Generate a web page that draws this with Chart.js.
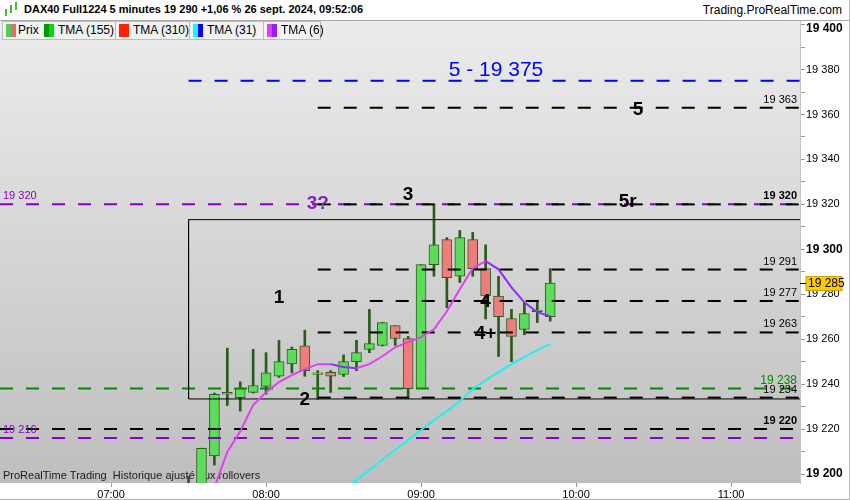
<!DOCTYPE html>
<html>
<head>
<meta charset="utf-8">
<script src="https://cdn.jsdelivr.net/npm/chart.js@4.4.1/dist/chart.umd.min.js"></script>
<style>
  body { margin: 0; background: #fff; font-family: "Liberation Sans", Arial, sans-serif; }
  #wrap { position: relative; width: 850px; height: 500px; overflow: hidden; }
  #chart { position: absolute; left: 0; top: 0; }
  #head { position: absolute; left: 0; top: 0; width: 850px; height: 20px; background: #fff; border-bottom: 1px solid #a9a9a9; }
  #title { position: absolute; left: 24px; top: 3px; font-size: 11px; font-weight: bold; color: #000; white-space: nowrap; }
  #site { position: absolute; right: 8px; top: 3px; font-size: 12px; color: #000; }
  .ico { position: absolute; background: #44bb33; width: 2px; }
  .leg { position: absolute; top: 21px; height: 17px; background: #f2f2f2; border: 1px solid #bdbdbd; border-left: none; font-size: 12px; line-height: 17px; color: #000; white-space: nowrap; }
  .sw { position: absolute; top: 2px; width: 5px; height: 13px; }
  #frame { position: absolute; left: 0; top: 0; width: 849px; height: 499px; border-right: 1px solid #b5b5b5; border-bottom: 1px solid #b5b5b5; pointer-events: none; }
</style>
</head>
<body>
<div id="wrap">
  <canvas id="chart" width="850" height="500"></canvas>
  <div id="head">
    <div class="ico" style="left:5px;top:9px;height:7px"></div>
    <div class="ico" style="left:10px;top:5px;height:8px"></div>
    <div class="ico" style="left:15px;top:2px;height:8px"></div>
    <div id="title">DAX40 Full1224 5 minutes 19 290 +1,06 % 26 sept. 2024, 09:52:06</div>
    <div id="site">Trading.ProRealTime.com</div>
  </div>
  <div class="leg" style="left:2px;width:37px;border-left:1px solid #bdbdbd">
    <span class="sw" style="left:3px;background:#55cc55"></span><span class="sw" style="left:8px;background:#e36b6b"></span>
    <span style="position:absolute;left:15px">Prix</span>
  </div>
  <div class="leg" style="left:40px;width:75px">
    <span class="sw" style="left:4px;background:#009900"></span><span class="sw" style="left:9px;background:#00dd00"></span>
    <span style="position:absolute;left:18px">TMA (155)</span>
  </div>
  <div class="leg" style="left:116px;width:73px">
    <span class="sw" style="left:3px;background:#ff2200"></span><span class="sw" style="left:8px;background:#ff2200"></span>
    <span style="position:absolute;left:17px">TMA (310)</span>
  </div>
  <div class="leg" style="left:190px;width:73px">
    <span class="sw" style="left:3px;background:#00ffff"></span><span class="sw" style="left:8px;background:#0000ff"></span>
    <span style="position:absolute;left:17px">TMA (31)</span>
  </div>
  <div class="leg" style="left:264px;width:56px">
    <span class="sw" style="left:3px;background:#e040f0"></span><span class="sw" style="left:8px;background:#8f1fff"></span>
    <span style="position:absolute;left:17px">TMA (6)</span>
  </div>
  <div id="frame"></div>
</div>
<script>
// candles, 5 minutes
var times  = ['07:30','07:35','07:40','07:45','07:50','07:55','08:00','08:05','08:10','08:15','08:20','08:25','08:30','08:35','08:40',
              '08:45','08:50','08:55','09:00','09:05','09:10','09:15','09:20','09:25','09:30','09:35','09:40','09:45','09:50'];
var opens  = [19180,19188,19208,19235.5,19234,19236.3,19239,19243.5,19249,19257,19244.3,19245.3,19244.3,19250,19255.4,
              19257.2,19266,19260.3,19238,19293.2,19304.3,19288,19304.3,19291.4,19279.2,19269.2,19264.3,19272.3,19270];
var highs  = [19199,19211.5,19236,19256,19241,19255.5,19254,19259.5,19256.5,19264,19246,19246,19253,19259.5,19273.3,
              19267.5,19266,19261.2,19293.2,19320,19305.2,19308.4,19307.5,19302,19288,19273.3,19276.3,19277.2,19291.4];
var lows   = [19175,19185,19204,19230.5,19228,19236,19235.5,19243,19245,19243.5,19233.3,19236.3,19243.4,19246,19254,
              19257,19257.2,19233.6,19238,19288,19274,19285.2,19288,19269,19252.3,19250,19262,19267.4,19268];
var closes = [19194,19211.4,19235.5,19236.3,19238,19239.4,19245,19250,19255.5,19246,19245,19243.5,19250,19254,19258,
              19267.4,19260.3,19238,19293.2,19302,19287.4,19305.2,19291.4,19279.2,19270,19261.2,19271.4,19273,19285];

// moving averages
var tma6  = [null,null,19194,19209.8,19219,19230.7,19236.4,19240.9,19244,19246.7,19248.9,19248.9,19247.6,19247.1,19248.9,
             19252.4,19256.4,19258.7,19260.9,19264.4,19272.4,19282.2,19291.6,19294.7,19291.1,19283.1,19276.4,19272,19270.2];
var tma31 = [null,null,null,null,null,null,null,null,null,null,null,null,19193,19197.3,19201.8,
             19206.2,19210.7,19215.1,19219.6,19224,19228,19232.4,19237.8,19241.8,19245.3,19248.9,19252,19255.1,19257.8];

// drawn levels
var levelPrices = [19375, 19363, 19320, 19320, 19291, 19277, 19263, 19238, 19234, 19220, 19216];
var levelStarts = ['07:30','08:20', null, '08:20','08:20','08:20','08:20', null, '08:20', null, null];
var levelKinds  = ['blue','black','purple','black','black','black','black','green','black','black','purple'];

// box
var boxStart = '07:30';
var boxTop = 19313.2;
var boxBottom = 19233.4;

// wave labels
var waveText  = ['1', '2', '3', '3?', '4', '4+', '5', '5r'];
var waveTime  = ['08:05','08:15','08:55','08:20','09:25','09:25','10:24','10:20'];
var wavePrice = [19278.6, 19232.9, 19324.1, 19320.4, 19276.7, 19262.6, 19362, 19321.2];
var targetText = '5 - 19 375';
var targetTime = '09:29';
var targetPrice = 19379.8;

var xTicks = ['07:00','08:00','09:00','10:00','11:00'];
var yTicks = [19200,19210,19220,19230,19240,19250,19260,19270,19280,19290,19300,
              19310,19320,19330,19340,19350,19360,19370,19380,19390,19400];
var footText = 'ProRealTime Trading  Historique ajusté aux rollovers';

var X_MIN = 377, X_MAX = 686.7, Y_MIN = 19196, Y_MAX = 19401.6;
var FONT = '"Liberation Sans", Arial, sans-serif';

function toMin(t) { var p = t.split(':'); return (+p[0]) * 60 + (+p[1]); }
function fmt(v) { return String(Math.round(v)).replace(/\B(?=(\d{3})+(?!\d))/g, ' '); }

var colors = { black: '#000000', purple: '#8a00c8', green: '#008a00', blue: '#0000ff' };

var datasets = [];

// wicks and bodies
datasets.push({
  type: 'bar', order: 20, grouped: false,
  data: times.map(function (t, i) { return { x: toMin(t), y: [lows[i], highs[i]] }; }),
  backgroundColor: '#2b5a1a', borderWidth: 0, barThickness: 2
});
datasets.push({
  type: 'bar', order: 19, grouped: false,
  data: times.map(function (t, i) { return { x: toMin(t), y: [Math.min(opens[i], closes[i]), Math.max(opens[i], closes[i])] }; }),
  backgroundColor: times.map(function (t, i) { return closes[i] >= opens[i] ? '#5bdc5b' : '#f07c7c'; }),
  borderColor: '#2e5e1e', borderWidth: 1, borderSkipped: false, barThickness: 10
});

// levels
levelPrices.forEach(function (p, i) {
  var from = levelStarts[i] ? toMin(levelStarts[i]) : X_MIN;
  var k = levelKinds[i];
  datasets.push({
    type: 'line', order: (k == 'purple' || k == 'green') ? 6 : 5,
    data: [{ x: from, y: p }, { x: X_MAX, y: p }],
    borderColor: colors[k], borderWidth: 2, borderDash: [13, 13],
    pointRadius: 0, fill: false
  });
});

// box
datasets.push({
  type: 'line', order: 4,
  data: [{ x: X_MAX, y: boxTop }, { x: toMin(boxStart), y: boxTop }, { x: toMin(boxStart), y: boxBottom }, { x: X_MAX, y: boxBottom }],
  borderColor: '#000', borderWidth: 1, pointRadius: 0, fill: false
});

// averages
datasets.push({
  type: 'line', order: 2,
  data: times.map(function (t, i) { return { x: toMin(t), y: tma31[i] }; }),
  borderColor: '#22f0f0', borderWidth: 2, pointRadius: 0, fill: false, spanGaps: false
});
datasets.push({
  type: 'line', order: 1,
  data: times.map(function (t, i) { return { x: toMin(t), y: tma6[i] }; }),
  borderColor: '#e040f0', borderWidth: 2, pointRadius: 0, fill: false,
  segment: { borderColor: function (ctx) { return ctx.p1.parsed.y < ctx.p0.parsed.y ? '#8f2bff' : '#e040f0'; } }
});

var decor = {
  id: 'decor',
  beforeDraw: function (chart) {
    var a = chart.chartArea, c = chart.ctx;
    var g = c.createLinearGradient(0, a.top, 0, a.bottom);
    g.addColorStop(0, '#ececec');
    g.addColorStop(1, '#bebebe');
    c.save();
    c.fillStyle = g;
    c.fillRect(a.left, a.top, a.right - a.left, a.bottom - a.top);
    c.restore();
  },
  beforeDatasetsDraw: function (chart) {
    var a = chart.chartArea, c = chart.ctx;
    c.save();
    c.font = '11px ' + FONT;
    c.fillStyle = '#1a1a1a';
    c.textBaseline = 'middle';
    c.fillText(footText, a.left + 3, a.bottom - 7);
    c.restore();
  },
  afterDatasetsDraw: function (chart) {
    var a = chart.chartArea, c = chart.ctx;
    var xs = chart.scales.x, ys = chart.scales.y;
    c.save();
    c.textBaseline = 'middle';
    // small level labels
    levelPrices.forEach(function (p, i) {
      var k = levelKinds[i], y = ys.getPixelForValue(p);
      if (k == 'blue') return;
      if (k == 'purple') {
        c.font = '11px ' + FONT;
        c.fillStyle = colors.purple;
        c.textAlign = 'left';
        c.fillText(fmt(p), a.left + 3, y - 8);
      }
      if (k == 'black' || k == 'green') {
        c.font = (p == 19320 || p == 19220 ? 'bold ' : '') + (k == 'green' ? '12px ' : '11px ') + FONT;
        c.fillStyle = k == 'green' ? colors.green : '#000';
        c.textAlign = 'right';
        c.fillText(fmt(p), a.right - 3, y - 8);
      }
    });
    // waves
    c.textAlign = 'center';
    waveText.forEach(function (s, i) {
      c.font = 'bold 19px ' + FONT;
      c.fillStyle = s == '3?' ? '#8a1fc8' : '#000';
      c.fillText(s, xs.getPixelForValue(toMin(waveTime[i])), ys.getPixelForValue(wavePrice[i]));
    });
    c.font = '21px ' + FONT;
    c.fillStyle = '#0000ff';
    c.fillText(targetText, xs.getPixelForValue(toMin(targetTime)), ys.getPixelForValue(targetPrice));
    c.restore();
  },
  afterDraw: function (chart) {
    var a = chart.chartArea, c = chart.ctx, ys = chart.scales.y;
    c.save();
    // top axis label kept inside
    var yt = Math.max(ys.getPixelForValue(yTicks[yTicks.length - 1]), a.top + 8);
    c.font = 'bold 12px ' + FONT;
    c.fillStyle = '#000';
    c.textBaseline = 'middle';
    c.fillText(fmt(yTicks[yTicks.length - 1]), a.right + 6, yt);
    // last price
    var last = closes[closes.length - 1];
    var y = Math.round(ys.getPixelForValue(last)) + 0.5;
    c.fillStyle = '#ffcc00';
    c.fillRect(a.right + 6, y - 7, 36, 14);
    c.strokeStyle = '#c9a200';
    c.lineWidth = 1;
    c.strokeRect(a.right + 6, y - 7, 36, 14);
    c.beginPath();
    c.moveTo(a.right, y); c.lineTo(a.right + 6, y);
    c.strokeStyle = '#000';
    c.stroke();
    c.font = '12px ' + FONT;
    c.fillStyle = '#000';
    c.fillText(fmt(last), a.right + 8, y);
    c.restore();
  }
};

new Chart(document.getElementById('chart'), {
  type: 'bar',
  data: { datasets: datasets },
  plugins: [decor],
  options: {
    responsive: false,
    animation: false,
    events: [],
    layout: { padding: { top: 21, left: 0, right: 0, bottom: 0 } },
    plugins: { legend: { display: false }, tooltip: { enabled: false } },
    scales: {
      x: {
        type: 'linear', min: X_MIN, max: X_MAX, offset: false,
        grid: { drawOnChartArea: false, offset: false, tickLength: 4, color: '#999' },
        border: { display: false },
        afterBuildTicks: function (s) { s.ticks = xTicks.map(function (t) { return { value: toMin(t) }; }); },
        afterFit: function (s) { s.height = 17; },
        ticks: {
          padding: 1, maxRotation: 0, color: '#000', font: { family: FONT, size: 11 },
          callback: function (v) { var h = Math.floor(v / 60), m = v % 60; return (h < 10 ? '0' : '') + h + ':' + (m < 10 ? '0' : '') + m; }
        }
      },
      y: {
        type: 'linear', position: 'right', min: Y_MIN, max: Y_MAX, beginAtZero: false,
        grid: { drawOnChartArea: false, tickLength: 5, color: '#999' },
        border: { display: true, color: '#c4c4c4' },
        afterBuildTicks: function (s) { s.ticks = yTicks.map(function (v) { return { value: v }; }); },
        afterFit: function (s) { s.width = 50; },
        ticks: {
          padding: 1, color: '#000',
          font: function (ctx) { return ctx.tick && ctx.tick.value % 100 === 0 ? { family: FONT, size: 12, weight: 'bold' } : { family: FONT, size: 11 }; },
          callback: function (v) { return (v % 20 === 0 && v !== yTicks[yTicks.length - 1]) ? fmt(v) : ''; }
        }
      }
    }
  }
});
</script>
</body>
</html>
